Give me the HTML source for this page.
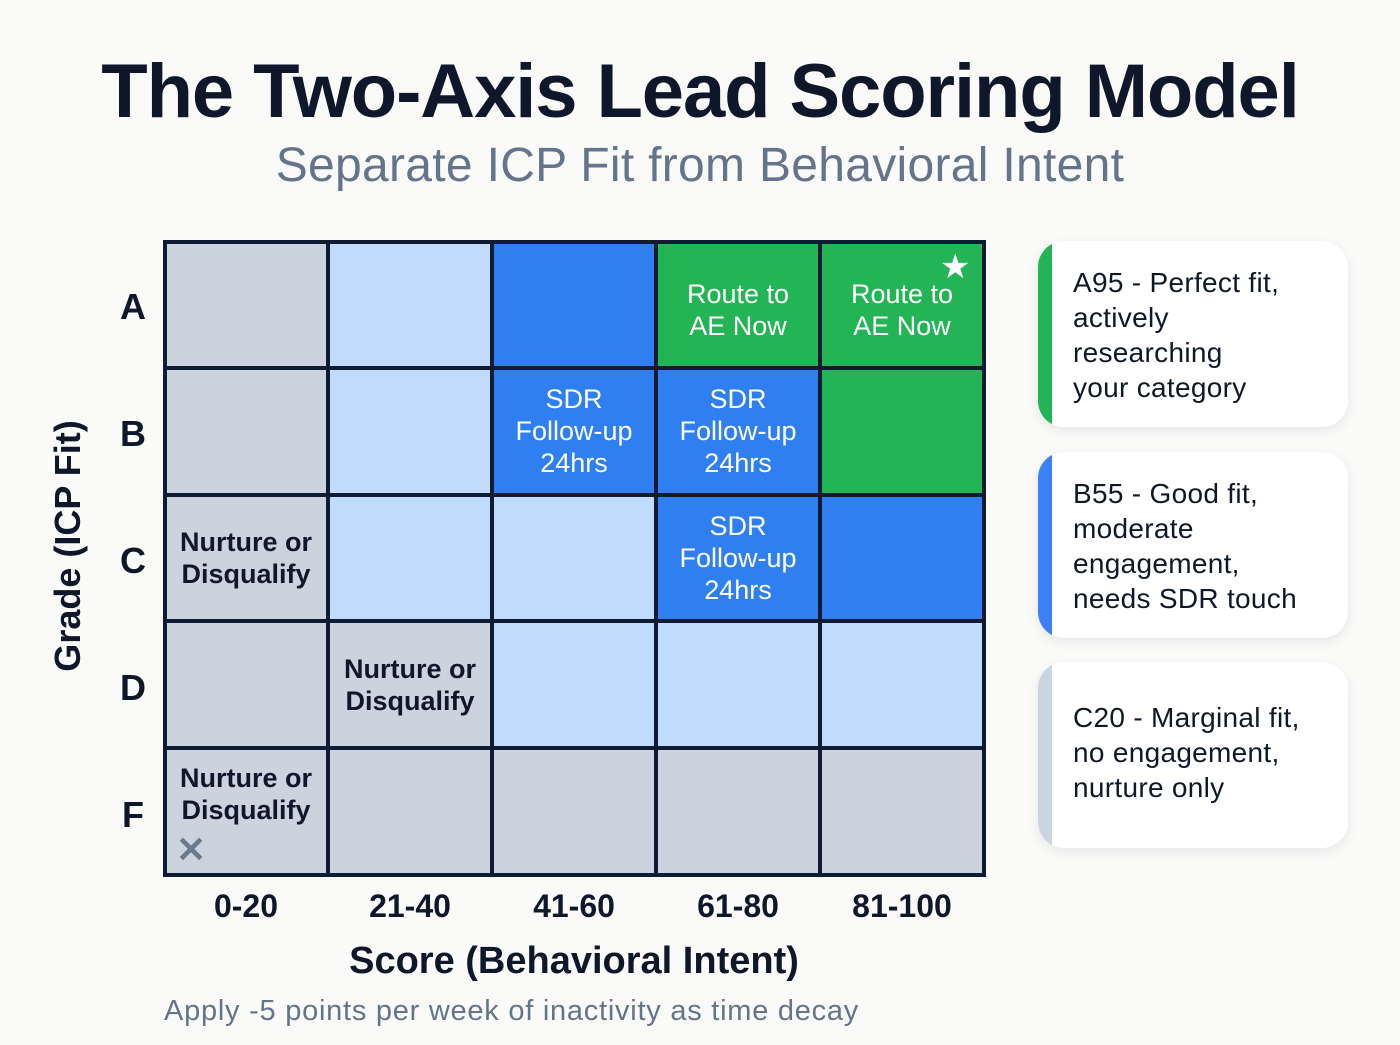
<!DOCTYPE html>
<html><head><meta charset="utf-8"><style>
body{margin:0;width:1400px;height:1045px;background:#fafaf9;font-family:"Liberation Sans",sans-serif;position:relative;overflow:hidden}
.abs{position:absolute}
#title{left:0;width:1400px;top:48px;text-align:center;font-size:76px;font-weight:bold;color:#0f172a;letter-spacing:-1.1px}
#sub{left:0;width:1400px;top:138px;text-align:center;font-size:48px;color:#64748b;letter-spacing:0.3px}
.cell{position:absolute;box-sizing:border-box;border:2px solid #0f1a33;display:flex;align-items:center;justify-content:center;text-align:center;font-size:27px;line-height:32px}
.card{position:absolute;left:1038px;width:310px;height:186px;background:#fff;border-radius:26px;box-shadow:0 4px 12px rgba(0,0,0,0.08);overflow:hidden}
.card .bar{position:absolute;left:0;top:0;bottom:0;width:14px}
.card .t{position:absolute;left:35px;font-size:28px;line-height:35px;color:#0f172a;letter-spacing:0.3px}
.rl{position:absolute;left:118px;width:30px;text-align:center;font-size:36px;font-weight:bold;color:#0f172a}
.cl{position:absolute;top:888px;width:164px;text-align:center;font-size:32px;font-weight:bold;color:#0f172a}
</style></head><body>
<div id="title" class="abs">The Two-Axis Lead Scoring Model</div>
<div id="sub" class="abs">Separate ICP Fit from Behavioral Intent</div>
<div class="abs" style="left:-62px;top:525px;width:260px;text-align:center;transform:rotate(-90deg);font-size:36px;font-weight:bold;color:#0f172a">Grade (ICP Fit)</div>
<div class="abs" style="left:164px;width:820px;top:940px;text-align:center;font-size:38px;font-weight:bold;color:#0f172a">Score (Behavioral Intent)</div>
<div class="abs" style="left:164px;top:995px;font-size:29px;color:#64748b;letter-spacing:0.75px">Apply -5 points per week of inactivity as time decay</div>

<div class="card" style="top:241px"><div class="bar" style="background:#22b455"></div><div class="t" style="top:24px">A95 - Perfect fit,<br>actively<br>researching<br>your category</div></div>
<div class="card" style="top:452px"><div class="bar" style="background:#3b82f6"></div><div class="t" style="top:24px">B55 - Good fit,<br>moderate<br>engagement,<br>needs SDR touch</div></div>
<div class="card" style="top:662px"><div class="bar" style="background:#cbd5e1"></div><div class="t" style="top:38px">C20 - Marginal fit,<br>no engagement,<br>nurture only</div></div>

<script>
const grades=["A","B","C","D","F"];
const scoreBands=["0-20","21-40","41-60","61-80","81-100"];
const cellTiers=[["gray","light","blue","green","green"],["gray","light","blue","blue","green"],["gray","light","light","blue","blue"],["gray","gray","light","light","light"],["gray","gray","gray","gray","gray"]];
const cellLabels=[["","","","Route to<br>AE Now","Route to<br>AE Now"],["","","SDR<br>Follow-up<br>24hrs","SDR<br>Follow-up<br>24hrs",""],["Nurture or<br>Disqualify","","","SDR<br>Follow-up<br>24hrs",""],["","Nurture or<br>Disqualify","","",""],["Nurture or<br>Disqualify","","","",""]];
const colors={gray:"#cbd3de",light:"#c0dbfb",blue:"#2f7ff0",green:"#22b455"};
const x0=164,y0=241,W=820,H=634;
const cw=W/scoreBands.length,rh=H/grades.length;
const xs=i=>x0+i*cw, ys=j=>y0+j*rh;
grades.forEach((g,r)=>{
  scoreBands.forEach((s,c)=>{
    const d=document.createElement('div');d.className='cell';
    
    
    const t=cellTiers[r][c];
    d.style.left=xs(c)+'px';d.style.top=ys(r)+'px';d.style.width=cw+'px';d.style.height=rh+'px';
    d.style.background=colors[t];
    d.style.color=(t==='blue'||t==='green')?'#ffffff':'#0f172a';
    if(t==='gray'||t==='light')d.style.fontWeight='bold';
    if(r===0)d.style.paddingTop='12px';
    if(r===4)d.style.paddingBottom='36px';
    d.innerHTML=cellLabels[r][c];
    document.body.appendChild(d);
  });
  const l=document.createElement('div');l.className='rl';
  
  
  l.style.top=(ys(r)+rh/2-18)+'px';l.textContent=g;document.body.appendChild(l);
});
const frame=document.createElement('div');


frame.style.cssText='position:absolute;left:'+(x0-1)+'px;top:'+(y0-1)+'px;width:'+(W+3)+'px;height:'+(H+3)+'px;border:4px solid #0f1a33;box-sizing:border-box';
document.body.appendChild(frame);
scoreBands.forEach((s,c)=>{
  const l=document.createElement('div');l.className='cl';
  
  
  l.style.left=xs(c)+'px';l.textContent=s;document.body.appendChild(l);
});
const star=document.createElement('div');


star.style.cssText='position:absolute;left:'+(xs(4)+cw-44)+'px;top:'+(ys(0)+6)+'px;font-size:34px;color:#fff';
star.textContent='★';document.body.appendChild(star);
const x=document.createElement('div');


x.style.cssText='position:absolute;left:'+(xs(0)+12)+'px;top:'+(ys(4)+rh-46)+'px;font-size:36px;font-weight:bold;color:#6b7a8c';
x.textContent='✕';document.body.appendChild(x);
</script>
</body></html>
